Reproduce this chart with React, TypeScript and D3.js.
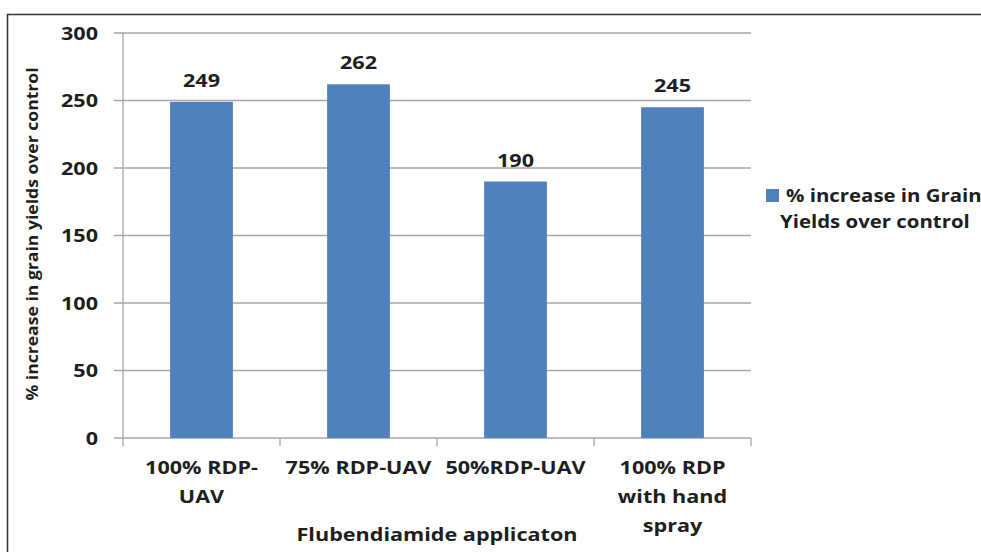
import React from "react";
import * as d3 from "d3";

const categories = ["100% RDP-UAV", "75% RDP-UAV", "50%RDP-UAV", "100% RDP with hand spray"];
const categoryLines = [["100% RDP-", "UAV"], ["75% RDP-UAV"], ["50%RDP-UAV"], ["100% RDP", "with hand", "spray"]];
const values = [249, 262, 190, 245];
const yTicks = [0, 50, 100, 150, 200, 250, 300];
const seriesName = ["% increase in Grain", "Yields over control"];
const yTitle = "% increase in grain yields over control";
const xTitle = "Flubendiamide applicaton";

const W = 981;
const H = 552;
const plot = { left: 123, right: 751, top: 33, bottom: 438 };
const FONT = "'Open Sans', sans-serif";
const TXT = "#1e1e1e";
const SX = 1.2;

function T(props: { x: number; y: number; size?: number; anchor?: string; rotate?: number; sx?: number; children: React.ReactNode }) {
  const { x, y, size = 18, anchor = "middle", rotate = 0, sx = SX, children } = props;
  return (
    <text
      transform={`translate(${x},${y}) rotate(${rotate}) scale(${sx},1)`}
      fontFamily={FONT}
      fontWeight={700}
      fontSize={size}
      fill={TXT}
      textAnchor={anchor}
    >
      {children}
    </text>
  );
}

export default function App() {
  const x = d3.scaleBand<string>().domain(categories).range([plot.left, plot.right]).paddingInner(0.6).paddingOuter(0.3);
  const y = d3.scaleLinear().domain([0, 300]).range([plot.bottom, plot.top]);
  const step = x.step();
  const boundaries = d3.range(categories.length + 1).map((i) => plot.left + i * step);

  return (
    <svg width={W} height={H} style={{ position: "absolute", left: 0, top: 0, background: "#fff" }}>
      <rect x={0} y={0} width={W} height={H} fill="#fff" />
      <path d={`M7.5,${H} V14.5 H${W}`} fill="none" stroke="#333" strokeWidth={1.5} />

      {yTicks.map((t) => (
        <line key={t} x1={plot.left - 9} x2={plot.right} y1={y(t)} y2={y(t)} stroke="#a6a6a6" strokeWidth={1.3} />
      ))}
      <line x1={plot.left} x2={plot.left} y1={plot.top} y2={plot.bottom} stroke="#a6a6a6" strokeWidth={1.3} />
      {boundaries.map((b, i) => (
        <line key={i} x1={b} x2={b} y1={plot.bottom} y2={plot.bottom + 8} stroke="#a6a6a6" strokeWidth={1.3} />
      ))}

      {yTicks.map((t) => (
        <T key={t} x={98} y={y(t) + 6.5} anchor="end">
          {t}
        </T>
      ))}

      {categories.map((c, i) => (
        <g key={c}>
          <rect x={x(c)!} y={y(values[i])} width={x.bandwidth()} height={plot.bottom - y(values[i])} fill="#4f81bd" />
          <T x={x(c)! + x.bandwidth() / 2} y={y(values[i]) - 15}>
            {values[i]}
          </T>
          {categoryLines[i].map((ln, j) => (
            <T key={j} x={x(c)! + x.bandwidth() / 2} y={474 + j * 29}>
              {ln}
            </T>
          ))}
        </g>
      ))}

      <T x={437} y={541}>{xTitle}</T>
      <T x={38} y={234} size={16} sx={1.1} rotate={-90}>{yTitle}</T>

      <rect x={766} y={189} width={13} height={13} fill="#4f81bd" />
      <T x={786} y={202} size={17} anchor="start">{seriesName[0]}</T>
      <T x={780} y={228} size={17} anchor="start">{seriesName[1]}</T>
    </svg>
  );
}
